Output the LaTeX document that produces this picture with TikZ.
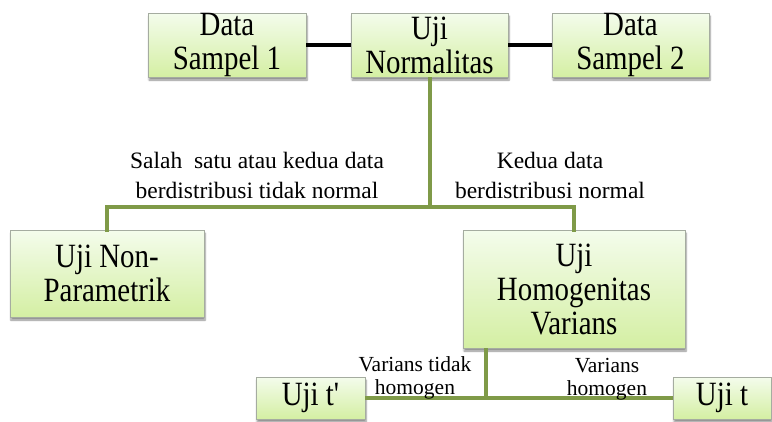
\documentclass[tikz,border=0pt]{standalone}
\usepackage{fontspec}
\setmainfont{Liberation Serif}
\newfontfamily\boxfont{Liberation Serif}[FakeStretch=0.85, Ligatures=TeXOff]
\usetikzlibrary{shadows.blur}
\definecolor{olive1}{RGB}{127,154,72}
\definecolor{boxtop}{RGB}{244,252,236}
\definecolor{boxbot}{RGB}{212,239,163}
\definecolor{boxline}{RGB}{165,172,160}
\tikzset{
  gbox/.style={draw=boxline, line width=0.8pt, top color=boxtop, bottom color=boxbot,
    rectangle, inner sep=0pt, align=center,
    blur shadow={shadow xshift=1pt, shadow yshift=-3pt, shadow blur steps=6, shadow opacity=45},
    font=\boxfont\fontsize{34}{34}\selectfont},
  blackline/.style={line width=4.5pt, black},
  greenline/.style={line width=4pt, olive1},
  lbl/.style={inner sep=0pt, align=center, font=\fontsize{23.5}{30}\selectfont},
  slbl/.style={inner sep=0pt, align=center, font=\fontsize{21.5}{23}\selectfont},
}
\begin{document}
\begin{tikzpicture}[x=1pt,y=-1pt]
\useasboundingbox (0,0) rectangle (772,421);
\coordinate (j) at (429.5,207);
\coordinate (k) at (486,398);
\node[gbox, minimum width=158pt, minimum height=64pt] (b1) at (227,45) {Data\\Sampel 1};
\node[gbox, minimum width=157pt, minimum height=64pt] (b2) at (429.5,45) {Uji\\Normalitas};
\node[gbox, minimum width=157pt, minimum height=64pt] (b3) at (630.5,45) {Data\\Sampel 2};
\node[gbox, minimum width=194pt, minimum height=87pt] (np) at (107,273.5) {Uji Non-\\Parametrik};
\node[gbox, minimum width=222pt, minimum height=118pt] (hv) at (574,289) {Uji\\Homogenitas\\Varians};
\node[gbox, minimum width=109pt, minimum height=42pt] (tp) at (310.5,398) {Uji t'};
\node[gbox, minimum width=98pt, minimum height=42pt] (tt) at (722,398) {Uji t};
\draw[blackline] (b1.east) -- (b2.west);
\draw[blackline] (b2.east) -- (b3.west);
\draw[greenline] (b2.south) -- (j);
\draw[greenline, line cap=rect] (np.north) |- (j) -| (hv.north);
\draw[greenline] (hv.south -| k) -- (k);
\draw[greenline] (tp.east) -- (tt.west);
\node[lbl] (l1) at (257,175.5) {Salah~ satu atau kedua data\\berdistribusi tidak normal};
\node[lbl] (l2) at (550,175.5) {Kedua data\\berdistribusi normal};
\node[slbl] (l3) at (415,378) {Varians tidak\\homogen};
\node[slbl] (l4) at (607,379) {Varians\\homogen};
\end{tikzpicture}
\end{document}
